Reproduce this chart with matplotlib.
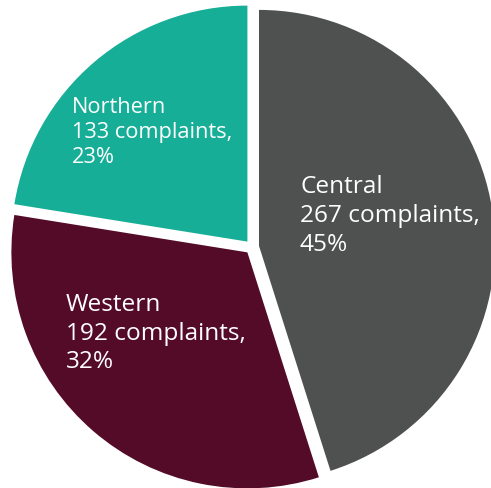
import matplotlib.pyplot as plt

# dados do gráfico
regioes = ['Central', 'Western', 'Northern']
reclamacoes = [267, 192, 133]
percentuais = [45, 32, 23]
cores = ['#4f5150', '#540b28', '#16ae96']

W, H = 491, 488
fig = plt.figure(figsize=(W / 100, H / 100), dpi=100)
ax = fig.add_axes([0, 0, 1, 1])

raio = 236  # pixels
cx, cy = 252, 247  # centro em pixels (a partir do topo)

ax.pie(reclamacoes, colors=cores, startangle=90, counterclock=False,
       explode=[0.03] * 3, radius=1,
       wedgeprops=dict(linewidth=0))

ax.set_xlim(-cx / raio, (W - cx) / raio)
ax.set_ylim(-(H - cy) / raio, cy / raio)
ax.set_aspect('equal')
ax.axis('off')

# rótulos: esquerda, linha de base da 1a linha, espaçamento, tamanho (pixels / pt)
pos_rotulos = {'Central': (300, 193, 29, 17.6),
               'Western': (66, 311, 28.5, 17.6),
               'Northern': (72, 113, 25, 15.7)}

for nome, valor, pct in zip(regioes, reclamacoes, percentuais):
    x, y, esp, tam = pos_rotulos[nome]
    linhas = [nome, '%d complaints,' % valor, '%d%%' % pct]
    for i, linha in enumerate(linhas):
        fig.text(x / W, 1 - (y + i * esp) / H, linha,
                 ha='left', va='baseline', color='white', fontsize=tam,
                 family='Open Sans')

plt.savefig('out.png', dpi=100)
